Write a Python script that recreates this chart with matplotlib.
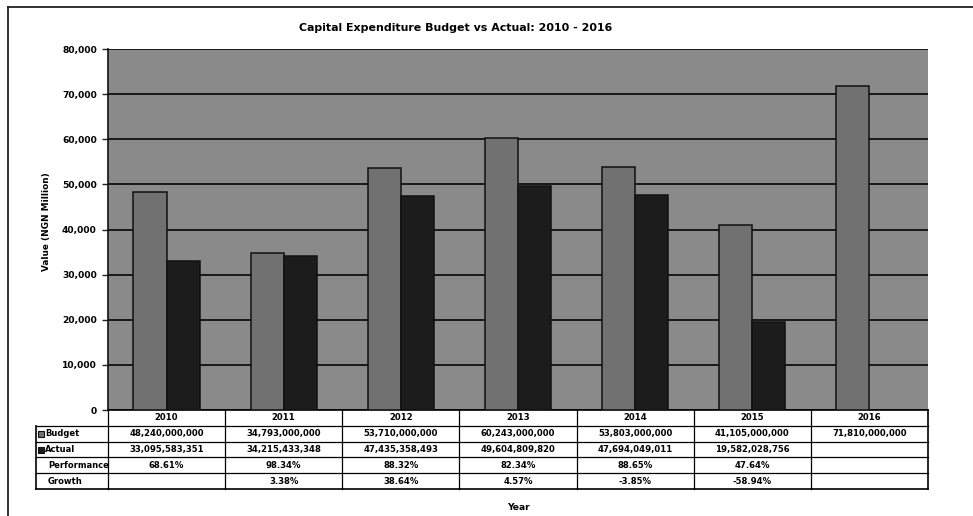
import numpy as np
import matplotlib
matplotlib.use("Agg")
import matplotlib.pyplot as plt
from matplotlib.lines import Line2D
from matplotlib.patches import Rectangle

# Capital expenditure, naira
years = ["2010", "2011", "2012", "2013", "2014", "2015", "2016"]
budget = [48240000000, 34793000000, 53710000000, 60243000000,
          53803000000, 41105000000, 71810000000]
actual = [33095583351, 34215433348, 47435358493, 49604809820,
          47694049011, 19582028756, None]
yticks = [0, 10000, 20000, 30000, 40000, 50000, 60000, 70000, 80000]

W, H = 973, 516
FONT = "DejaVu Sans"
BG = "#8a8a8a"
C_BUDGET = "#717171"
C_ACTUAL = "#1c1c1c"

fig = plt.figure(figsize=(W / 100, H / 100), dpi=100)
fig.patch.set_facecolor("white")

# plot area in pixels
L, R, T, B = 108, 928, 49, 410
ax = fig.add_axes([L / W, 1 - B / H, (R - L) / W, (B - T) / H])
ax.set_facecolor(BG)

x = np.arange(len(years))
bw = 0.283
bud_m = np.array(budget, dtype=float) / 1e6
act_m = np.array([np.nan if a is None else a for a in actual], dtype=float) / 1e6

ax.bar(x - bw / 2, bud_m, bw, color=C_BUDGET, edgecolor="#111111", linewidth=1.1, zorder=3)
ax.bar(x + bw / 2, act_m, bw, color=C_ACTUAL, edgecolor="#111111", linewidth=1.1, zorder=3)

ax.set_xlim(-0.5, len(years) - 0.5)
ax.set_ylim(0, 80000)
ax.set_yticks(yticks)
ax.set_yticklabels([f"{v:,}" for v in yticks], fontsize=6.6, fontweight="bold", family=FONT)
ax.set_xticks([])
ax.yaxis.grid(True, color="black", linewidth=1.15, zorder=1)
ax.set_axisbelow(True)
ax.tick_params(axis="y", length=4, width=1, color="#222222", pad=4)
for s in ["top", "right"]:
    ax.spines[s].set_visible(False)
ax.spines["left"].set_linewidth(1.2)
ax.spines["left"].set_color("#111111")
ax.spines["bottom"].set_visible(False)

# title and axis labels
fig.text(456 / W, 1 - 28 / H, "Capital Expenditure Budget vs Actual: 2010 - 2016",
         ha="center", va="center", fontsize=7.9, fontweight="bold", family=FONT)
fig.text(47 / W, 1 - 222 / H, "Value (NGN Million)", rotation=90,
         ha="center", va="center", fontsize=6.4, fontweight="bold", family=FONT)
fig.text(518 / W, 1 - 508 / H, "Year", ha="center", va="center",
         fontsize=6.6, fontweight="bold", family=FONT)

# data table under the chart
tr = ax.get_xaxis_transform()
px_per_unit = (R - L) / len(years)
x_lab = -0.5 - (108 - 36) / px_per_unit
row_h = 15.8
rows_top = [B + i * row_h for i in range(6)]


def yf(py):
    return (B - py) / (B - T)


def hline(x0, x1, py, lw=0.9):
    ax.add_line(Line2D([x0, x1], [yf(py), yf(py)], transform=tr, color="black",
                       linewidth=lw, clip_on=False))


def vline(xx, py0, py1, lw=0.9):
    ax.add_line(Line2D([xx, xx], [yf(py0), yf(py1)], transform=tr, color="black",
                       linewidth=lw, clip_on=False))


x_right = len(years) - 0.5
hline(-0.5, x_right, rows_top[0], 1.2)
for i in range(1, 5):
    hline(x_lab, x_right, rows_top[i])
hline(x_lab, x_right, rows_top[5], 1.2)
vline(x_lab, rows_top[1], rows_top[5], 1.2)
vline(-0.5, rows_top[0], rows_top[5])
for k in range(len(years)):
    vline(k + 0.5, rows_top[0], rows_top[5], 1.2 if k == len(years) - 1 else 0.9)

perf = [None if a is None else a / b for a, b in zip(actual, budget)]
growth = [None]
for i in range(1, len(actual)):
    if actual[i] is None or actual[i - 1] is None:
        growth.append(None)
    else:
        growth.append(actual[i] / actual[i - 1] - 1)

cells = [
    years,
    [f"{v:,}" for v in budget],
    ["" if a is None else f"{a:,}" for a in actual],
    ["" if p is None else f"{p * 100:.2f}%" for p in perf],
    ["" if g is None else f"{g * 100:.2f}%" for g in growth],
]
for r, row in enumerate(cells):
    cy = yf(rows_top[r] + row_h / 2)
    for k, txt in enumerate(row):
        ax.text(k, cy, txt, transform=tr, ha="center", va="center", fontsize=6.1,
                fontweight="bold", family=FONT, clip_on=False)

labels = ["Budget", "Actual", "Performance", "Growth"]
for r, lab in enumerate(labels, start=1):
    cy = rows_top[r] + row_h / 2
    if r <= 2:
        fig.add_artist(Rectangle((38 / W, 1 - (cy + 3) / H), 6 / W, 6 / H,
                                 transform=fig.transFigure,
                                 facecolor=C_BUDGET if r == 1 else C_ACTUAL,
                                 edgecolor="#111111", linewidth=0.8))
        tx = 45
    else:
        tx = 48
    fig.text(tx / W, 1 - cy / H, lab, ha="left", va="center", fontsize=6,
             fontweight="bold", family=FONT)

# chart frame
fig.add_artist(Line2D([8 / W, 8 / W], [1 - 7 / H, 0], transform=fig.transFigure,
                      color="#222222", linewidth=1.3))
fig.add_artist(Line2D([8 / W, 1], [1 - 7 / H, 1 - 7 / H], transform=fig.transFigure,
                      color="#222222", linewidth=1.3))

fig.savefig("out.png", dpi=100)
